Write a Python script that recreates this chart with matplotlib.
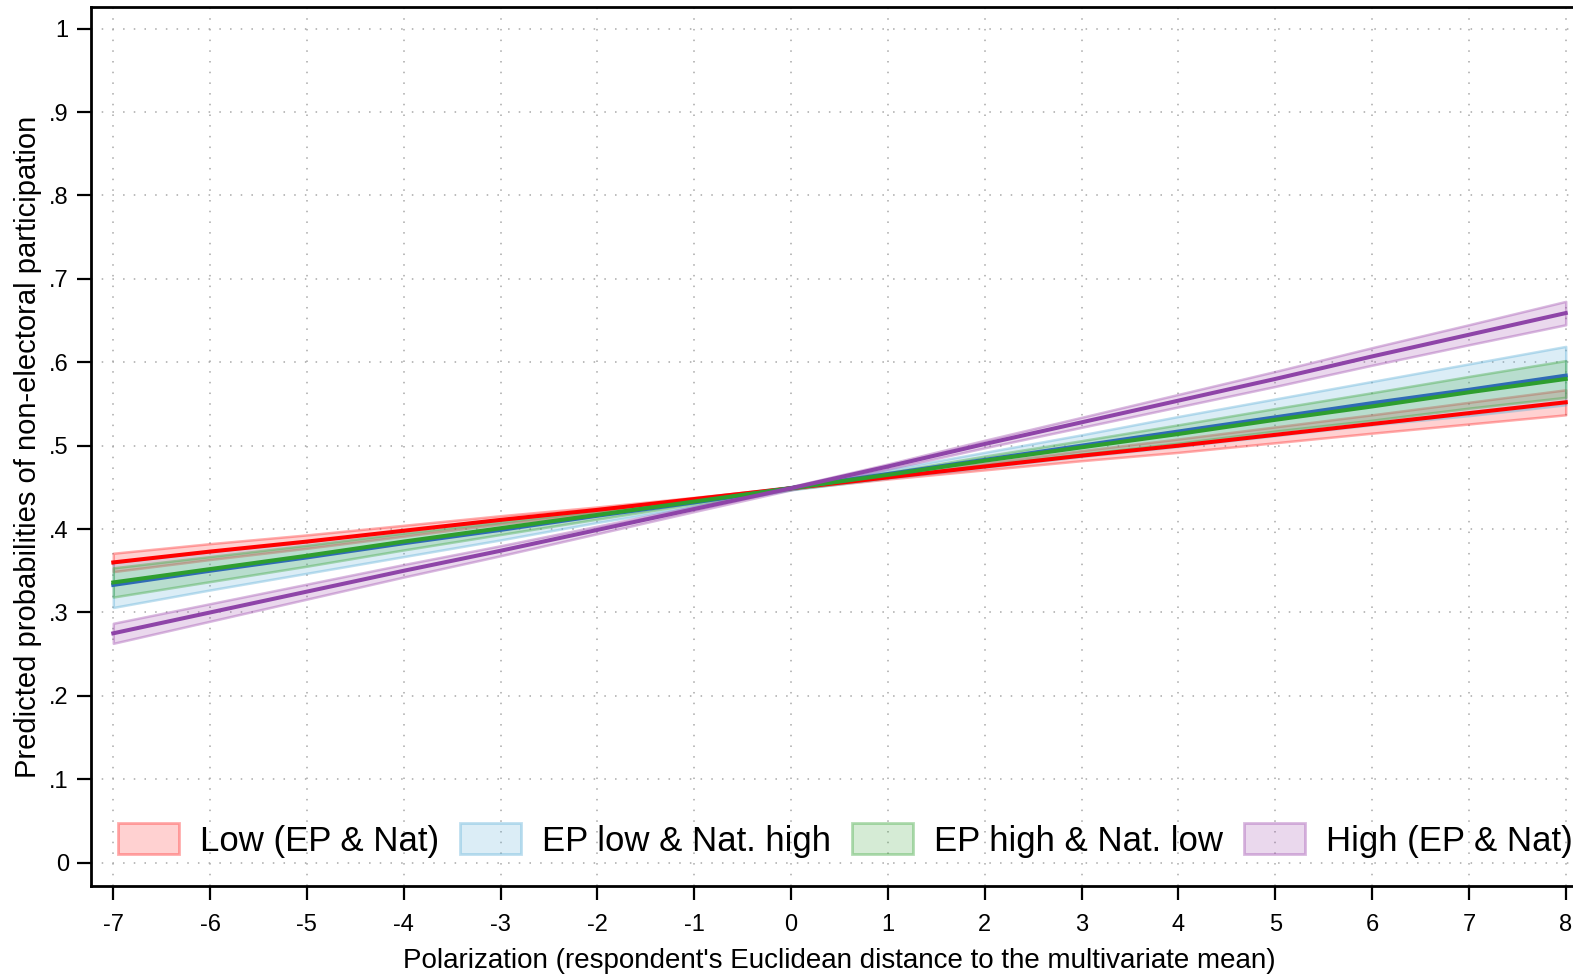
import numpy as np
import matplotlib
matplotlib.use("Agg")
import matplotlib.pyplot as plt
from matplotlib.patches import Patch

plt.rcParams['font.family'] = ['Liberation Sans', 'DejaVu Sans']

# ---- data ----
x_vals = [-7, -6, -5, -4, -3, -2, -1, 0, 1, 2, 3, 4, 5, 6, 7, 8]
series_names = ["Low (EP & Nat)", "EP low & Nat. high", "EP high & Nat. low", "High (EP & Nat)"]

low_mean = [0.360, 0.373, 0.385, 0.398, 0.411, 0.423, 0.436, 0.449, 0.462, 0.475, 0.488, 0.500, 0.513, 0.526, 0.539, 0.552]
low_hw   = [0.011, 0.0095, 0.008, 0.0065, 0.005, 0.0035, 0.002, 0.001, 0.002, 0.004, 0.006, 0.008, 0.0095, 0.011, 0.013, 0.015]

eplow_mean = [0.333, 0.350, 0.366, 0.383, 0.399, 0.416, 0.432, 0.449, 0.466, 0.483, 0.500, 0.517, 0.534, 0.551, 0.567, 0.584]
eplow_hw   = [0.027, 0.023, 0.019, 0.016, 0.012, 0.008, 0.005, 0.002, 0.005, 0.009, 0.013, 0.018, 0.022, 0.026, 0.031, 0.035]

ephigh_mean = [0.336, 0.352, 0.368, 0.385, 0.401, 0.417, 0.433, 0.449, 0.465, 0.482, 0.498, 0.514, 0.531, 0.547, 0.564, 0.580]
ephigh_hw   = [0.0175, 0.015, 0.0125, 0.010, 0.0075, 0.005, 0.003, 0.0015, 0.003, 0.0055, 0.008, 0.011, 0.0135, 0.0165, 0.019, 0.022]

high_mean = [0.275, 0.300, 0.325, 0.350, 0.374, 0.399, 0.424, 0.449, 0.475, 0.502, 0.528, 0.554, 0.580, 0.607, 0.633, 0.659]
high_hw   = [0.012, 0.0105, 0.009, 0.0075, 0.006, 0.0045, 0.003, 0.002, 0.003, 0.0045, 0.006, 0.0075, 0.009, 0.0105, 0.012, 0.014]

x_ticks = list(range(-7, 9))
y_ticks = [0, 0.1, 0.2, 0.3, 0.4, 0.5, 0.6, 0.7, 0.8, 0.9, 1.0]
y_ticklabels = ["0", ".1", ".2", ".3", ".4", ".5", ".6", ".7", ".8", ".9", "1"]

band_colors = ["#ff3030", "#5fb0d8", "#40a840", "#a050b0"]
line_colors = ["#ff0000", "#2f6bb5", "#2e9e2e", "#8e44a8"]

means = [low_mean, eplow_mean, ephigh_mean, high_mean]
hws = [low_hw, eplow_hw, ephigh_hw, high_hw]

fig = plt.figure(figsize=(15.73, 9.76), dpi=100)
ax = fig.add_axes([91/1573, 90/976, 1497/1573, 879/976])

x = np.array(x_vals)
for m, h, c in zip(means, hws, band_colors):
    m = np.array(m); h = np.array(h)
    ax.fill_between(x, m - h, m + h, facecolor=matplotlib.colors.to_rgba(c, 0.22),
                    edgecolor=matplotlib.colors.to_rgba(c, 0.4), linewidth=1.8, zorder=2)
for m, c in zip(means, line_colors):
    ax.plot(x, m, color=c, linewidth=2.9, zorder=3)

ax.set_xlim(-7.23, 8.23)
ax.set_ylim(-0.028, 1.026)
ax.grid(True, color="#a8a8a8", linestyle=(0, (1, 6)), linewidth=1.1, zorder=1)
for s in ax.spines.values():
    s.set_linewidth(2)
ax.tick_params(axis='both', direction='out', length=10, width=1.6, color='black')

ax.set_xticks(x_ticks)
ax.set_yticks(y_ticks)
ax.set_xticklabels([str(t) for t in x_ticks])
ax.set_yticklabels(y_ticklabels)
for lab in ax.get_xticklabels() + ax.get_yticklabels():
    lab.set_fontsize(17)
ax.tick_params(axis='x', pad=10)
ax.tick_params(axis='y', pad=6)

ax.set_xlabel("Polarization (respondent's Euclidean distance to the multivariate mean)", fontsize=20, labelpad=9)
ax.set_ylabel("Predicted probabilities of non-electoral participation", fontsize=21, labelpad=5)

handles = [Patch(facecolor=matplotlib.colors.to_rgba(c, 0.22), edgecolor=matplotlib.colors.to_rgba(c, 0.4), linewidth=2)
           for c in band_colors]
ax.legend(handles, series_names, loc='center left', bbox_to_anchor=(0.018, 0.052), ncol=4,
          frameon=False, fontsize=25, handlelength=1.75, handleheight=1.0, handletextpad=0.6,
          columnspacing=0.62, borderpad=0, borderaxespad=0)

fig.savefig("out.png", dpi=100)
